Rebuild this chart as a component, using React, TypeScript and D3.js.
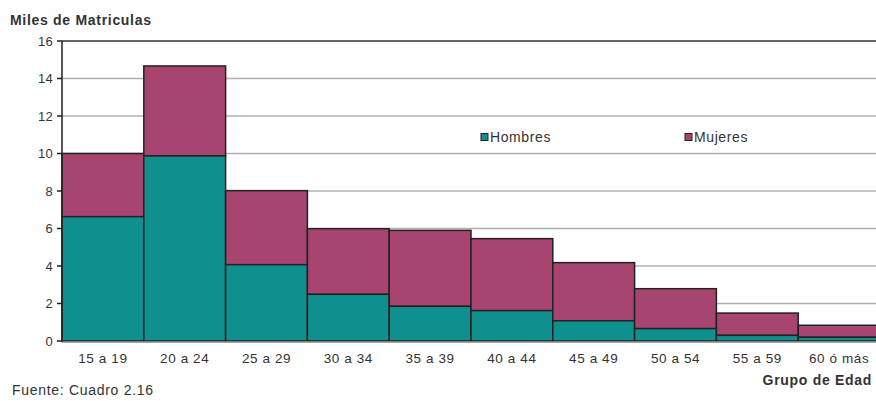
import React from "react";
import * as d3 from "d3";

const categories = ["15 a 19", "20 a 24", "25 a 29", "30 a 34", "35 a 39", "40 a 44", "45 a 49", "50 a 54", "55 a 59", "60 ó más"];
const hombres = [6.63, 9.87, 4.07, 2.49, 1.85, 1.62, 1.08, 0.66, 0.3, 0.2];
const mujeres = [3.37, 4.8, 3.95, 3.5, 4.05, 3.84, 3.1, 2.13, 1.19, 0.64];
const yTicks = [0, 2, 4, 6, 8, 10, 12, 14, 16];
const seriesNames = ["Hombres", "Mujeres"];
const colors = ["#0f8f8e", "#a84470"];

export default function App() {
  const W = 876, H = 401;
  const left = 62, right = 880, top = 41, bottom = 341;
  const x = d3.scaleBand<string>().domain(categories).range([left, right]).padding(0);
  const y = d3.scaleLinear().domain([0, 16]).range([bottom, top]);
  const font = "'Liberation Sans', Arial, sans-serif";
  const stack = categories.map((c, i) => ({ c, h: hombres[i], m: mujeres[i] }));
  return (
    <svg width={W} height={H} style={{ position: "absolute", left: 0, top: 0, background: "#fff" }} fontFamily={font}>
      {yTicks.map((t) => (
        <g key={t}>
          {t > 0 && (
            <line x1={left} x2={W} y1={y(t)} y2={y(t)} stroke={t === 16 ? "#333" : "#b0b0b0"} strokeWidth={1.5} />
          )}
          <line x1={left - 5} x2={left} y1={y(t)} y2={y(t)} stroke="#222" strokeWidth={1.5} />
          <text x={left - 9} y={y(t)} dy="0.35em" textAnchor="end" fontSize={13} letterSpacing={0.3} fill="#333">{t}</text>
        </g>
      ))}
      {stack.map((d) => (
        <g key={d.c}>
          <rect x={x(d.c)} y={y(d.h + d.m)} width={x.bandwidth()} height={y(d.h) - y(d.h + d.m)} fill={colors[1]} stroke="#222" strokeWidth={1.5} />
          <rect x={x(d.c)} y={y(d.h)} width={x.bandwidth()} height={y(0) - y(d.h)} fill={colors[0]} stroke="#222" strokeWidth={1.5} />
          <text x={(x(d.c) as number) + x.bandwidth() / 2} y={363} textAnchor="middle" fontSize={13.5} letterSpacing={0.6} fill="#333">{d.c}</text>
        </g>
      ))}
      <line x1={left} x2={W} y1={bottom + 1} y2={bottom + 1} stroke="#888" strokeWidth={1.5} />
      <line x1={left} x2={left} y1={top} y2={bottom + 1} stroke="#222" strokeWidth={1.5} />
      {seriesNames.map((s, i) => {
        const lx = i === 0 ? 481 : 685;
        return (
          <g key={s}>
            <rect x={lx} y={133.5} width={7} height={7} fill={colors[i]} stroke="#222" strokeWidth={1} />
            <text x={lx + 9} y={142} fontSize={14} letterSpacing={0.6} fill="#333">{s}</text>
          </g>
        );
      })}
      <text x={10} y={25} fontSize={14} fontWeight="bold" letterSpacing={0.7} fill="#333">Miles de Matriculas</text>
      <text x={12} y={395} fontSize={14} letterSpacing={0.7} fill="#333">Fuente: Cuadro 2.16</text>
      <text x={872} y={385} fontSize={14} fontWeight="bold" letterSpacing={0.7} textAnchor="end" fill="#333">Grupo de Edad</text>
    </svg>
  );
}
